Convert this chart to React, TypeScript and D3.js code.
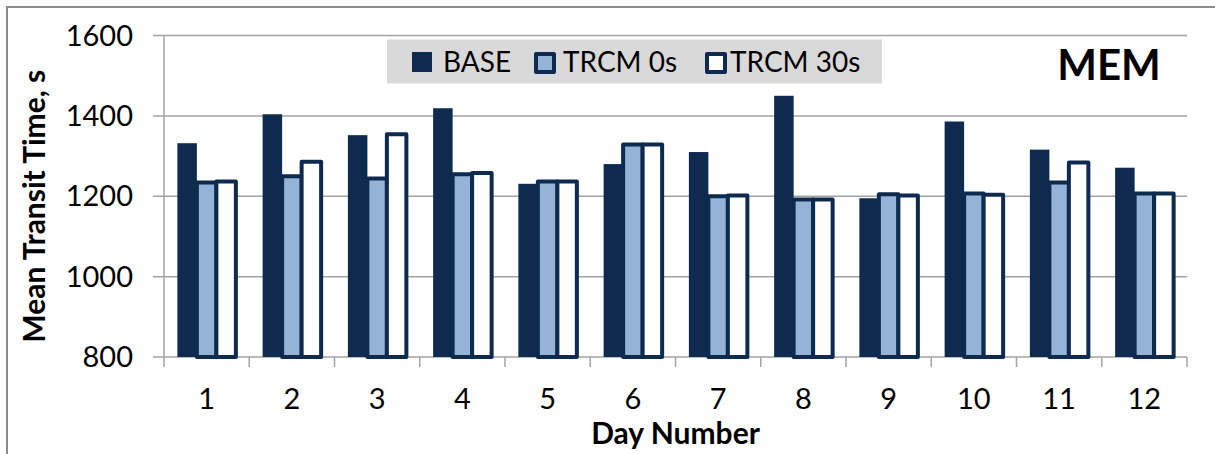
import React from "react";
import * as d3 from "d3";

// Mean transit time per day for each control strategy
const days = ["1", "2", "3", "4", "5", "6", "7", "8", "9", "10", "11", "12"];
const seriesNames = ["BASE", "TRCM 0s", "TRCM 30s"];
const baseValues = [1332, 1404, 1352, 1419, 1231, 1280, 1310, 1450, 1195, 1386, 1316, 1271];
const trcm0Values = [1234, 1250, 1244, 1255, 1237, 1329, 1200, 1192, 1205, 1207, 1234, 1207];
const trcm30Values = [1237, 1286, 1354, 1258, 1237, 1329, 1202, 1192, 1202, 1204, 1284, 1207];
const yTicks = [800, 1000, 1200, 1400, 1600];

const W = 1215;
const H = 454;
const FONT = "Lato, 'Open Sans', 'DejaVu Sans', sans-serif";
const NAVY = "#0e2a4f";
const LIGHT = "#95b3d7";
const GRID = "#a3a3a3";

const styles = [
  { fill: NAVY, stroke: "none", sw: 0 },
  { fill: LIGHT, stroke: NAVY, sw: 4 },
  { fill: "#ffffff", stroke: NAVY, sw: 4 },
];

export default function App() {
  const left = 164;
  const right = 1187;
  const top = 35.5;
  const bottom = 357;

  const x = d3.scaleBand<string>().domain(days).range([left, right]).padding(0);
  const groupW = 58.5;
  const inner = d3
    .scaleBand<string>()
    .domain(seriesNames)
    .range([(x.bandwidth() - groupW) / 2, (x.bandwidth() + groupW) / 2]);
  const y = d3.scaleLinear().domain([800, 1600]).range([bottom, top]);

  const seriesValues = [baseValues, trcm0Values, trcm30Values];

  return (
    <svg
      width={W}
      height={H}
      style={{ position: "absolute", left: 0, top: 0, background: "#ffffff" }}
      fontFamily={FONT}
    >
      <rect x={7} y={7} width={W + 20} height={H + 20} fill="#ffffff" stroke="#8c8c8c" strokeWidth={2} />

      {/* gridlines with their outside ticks */}
      {yTicks.map((t) => (
        <line key={"g" + t} x1={153} x2={right} y1={y(t)} y2={y(t)} stroke={GRID} strokeWidth={1.5} />
      ))}
      <line x1={left} x2={left} y1={top} y2={bottom} stroke={GRID} strokeWidth={1.5} />
      {days.map((d) => (
        <line key={"xt" + d} x1={x(d)!} x2={x(d)!} y1={bottom} y2={bottom + 10} stroke={GRID} strokeWidth={1.5} />
      ))}
      <line x1={right} x2={right} y1={bottom} y2={bottom + 10} stroke={GRID} strokeWidth={1.5} />

      {/* bars */}
      {seriesNames.map((s, si) =>
        days.map((d, di) => {
          const v = seriesValues[si][di];
          const bx = x(d)! + inner(s)!;
          const st = styles[si];
          return (
            <rect
              key={s + d}
              x={bx}
              y={y(v)}
              width={inner.bandwidth()}
              height={bottom - y(v)}
              fill={st.fill}
              stroke={st.stroke}
              strokeWidth={st.sw}
              strokeLinejoin="round"
            />
          );
        })
      )}

      {/* y tick labels */}
      {yTicks.map((t) => (
        <text key={"yl" + t} x={133} y={y(t)} dy="0.35em" textAnchor="end" fontSize={29} fill="#000">
          {t}
        </text>
      ))}

      {/* x tick labels */}
      {days.map((d) => (
        <text key={"xl" + d} x={x(d)! + x.bandwidth() / 2} y={409} textAnchor="middle" fontSize={29} fill="#000">
          {d}
        </text>
      ))}

      <text x={(left + right) / 2} y={444} textAnchor="middle" fontSize={30} fontWeight="bold" fill="#000">
        Day Number
      </text>
      <text
        transform={`translate(45, ${(top + bottom) / 2 + 10}) rotate(-90)`}
        textAnchor="middle"
        fontSize={30}
        fontWeight="bold"
        fill="#000"
      >
        Mean Transit Time, s
      </text>

      <text x={1109} y={80} textAnchor="middle" fontSize={42} fontWeight="bold" fill="#000">
        MEM
      </text>

      {/* legend */}
      <rect x={387} y={39.5} width={495} height={44} fill="#d9d9d9" />
      {[
        { sx: 412, tx: 443 },
        { sx: 534, tx: 563 },
        { sx: 705, tx: 730 },
      ].map((p, i) => (
        <g key={"lg" + i}>
          <rect
            x={p.sx + (styles[i].sw ? 2 : 0)}
            y={52 + (styles[i].sw ? 2 : 0)}
            width={styles[i].sw ? 18 : 20}
            height={styles[i].sw ? 18 : 20}
            fill={styles[i].fill}
            stroke={styles[i].stroke}
            strokeWidth={styles[i].sw}
            strokeLinejoin="round"
          />
          <text x={p.tx} y={72} fontSize={28} fill="#000">
            {seriesNames[i]}
          </text>
        </g>
      ))}
    </svg>
  );
}
